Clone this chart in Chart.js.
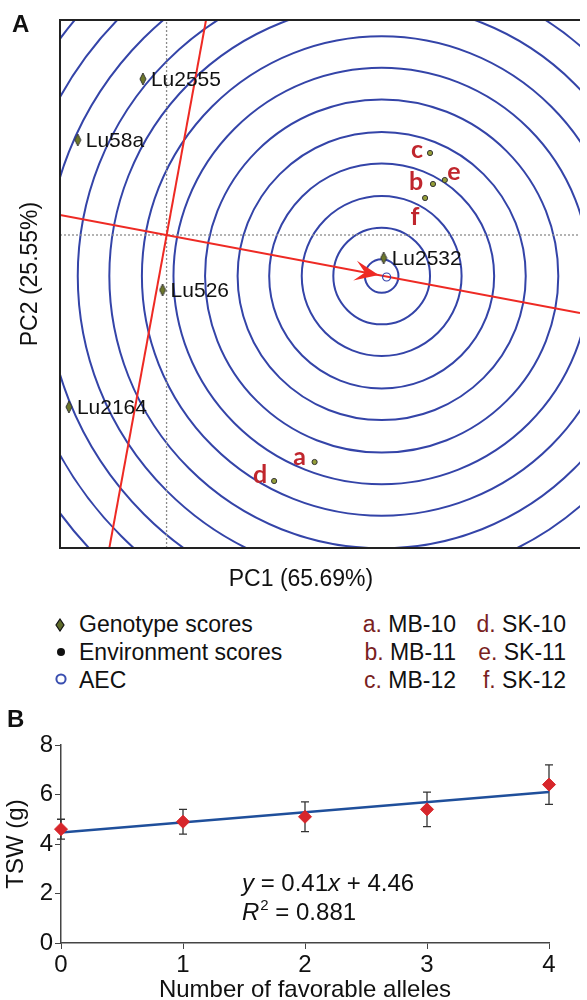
<!DOCTYPE html>
<html>
<head>
<meta charset="utf-8">
<title>GGE biplot and TSW</title>
<script src="https://cdn.jsdelivr.net/npm/chart.js@4.4.1/dist/chart.umd.min.js"></script>
<style>
  body { margin: 0; background: #fff; }
  #page { position: relative; width: 587px; height: 1000px; overflow: hidden;
          font-family: 'Liberation Sans', Arial, sans-serif; color: #111; }
  canvas { position: absolute; left: 0; }
  #biplot { top: 0; }
  #tswChart { top: 700px; }
  .tag { position: absolute; font-weight: bold; font-size: 24px; line-height: 24px; }
  .leg { position: absolute; font-size: 23px; line-height: 26px; white-space: nowrap; }
  .leg .k { color: #7a1f1f; }
  .mk { position: absolute; }
</style>
</head>
<body>
<div id="page">
  <canvas id="biplot" width="587" height="600"></canvas>
  <canvas id="tswChart" width="587" height="300"></canvas>

  <div class="tag" style="left:12px;top:12px">A</div>
  <div class="tag" style="left:7px;top:707px">B</div>

  <!-- legend of panel A -->
  <svg class="mk" style="left:55px;top:618px" width="10" height="14"><polygon points="5,1 9,7 5,13 1,7" fill="#5f6b2a" stroke="#111" stroke-width="1.2"/></svg>
  <svg class="mk" style="left:56px;top:647px" width="10" height="10"><circle cx="5" cy="5" r="4" fill="#111"/></svg>
  <svg class="mk" style="left:55px;top:673px" width="12" height="12"><circle cx="6" cy="6" r="4.6" fill="none" stroke="#3a4fb0" stroke-width="2"/></svg>
  <div class="leg" style="left:79px;top:611px">Genotype scores</div>
  <div class="leg" style="left:79px;top:639px">Environment scores</div>
  <div class="leg" style="left:79px;top:667px">AEC</div>

  <div class="leg" style="right:131px;top:611px;text-align:right"><span class="k">a.</span> MB-10</div>
  <div class="leg" style="right:131px;top:639px;text-align:right"><span class="k">b.</span> MB-11</div>
  <div class="leg" style="right:131px;top:667px;text-align:right"><span class="k">c.</span> MB-12</div>
  <div class="leg" style="right:21px;top:611px;text-align:right"><span class="k">d.</span> SK-10</div>
  <div class="leg" style="right:21px;top:639px;text-align:right"><span class="k">e.</span> SK-11</div>
  <div class="leg" style="right:21px;top:667px;text-align:right"><span class="k">f.</span> SK-12</div>
</div>

<script>
const FONT = "'Liberation Sans', Arial, sans-serif";

// ---- Panel A: GGE biplot data ----
const genotypeNames = ['Lu2555', 'Lu58a', 'Lu526', 'Lu2164', 'Lu2532'];
const genotypePC1 = [-0.24, -0.90, -0.04, -0.99, 2.20];
const genotypePC2 = [1.56, 0.95, -0.55, -1.72, -0.23];

const envLetters = ['a', 'b', 'c', 'd', 'e', 'f'];
const envPC1 = [1.50, 2.70, 2.67, 1.09, 2.82, 2.62];
const envPC2 = [-2.27, 0.51, 0.82, -2.46, 0.55, 0.37];

const aecPoint = [2.23, -0.42];
const arrowTip = [2.15, -0.40];
const ringCenter = [2.18, -0.41];
const ringRadii = [0.17, 0.49, 0.81, 1.14, 1.46, 1.79, 2.11, 2.43, 2.76, 3.08, 3.41, 3.73, 4.05, 4.38];

const aecAbscissaPC1 = [-1.08, 4.19];
const aecAbscissaPC2 = [0.20, -0.78];
const aecOrdinatePC1 = [0.40, -0.58];
const aecOrdinatePC2 = [2.15, -3.13];

const pc1Range = [-1.08, 4.19];
const pc2Range = [-3.13, 2.15];

// ---- Panel B: TSW vs favorable alleles ----
const alleleCounts = [0, 1, 2, 3, 4];
const tswMean = [4.6, 4.9, 5.1, 5.4, 6.4];
const tswError = [0.4, 0.5, 0.6, 0.7, 0.8];
const fitAlleles = [0, 4];
const fitTsw = [4.46, 6.10];
const tswTicks = [0, 2, 4, 6, 8];

// label offsets for environment letters (px, centre x / baseline y)
const letterOffset = { a: [-15, 3], b: [-17, 6], c: [-13, 5], d: [-14, 2], e: [9, 0], f: [-10, 27] };

function toPoints(xs, ys) {
  return xs.map((v, i) => ({ x: v, y: ys[i] }));
}

// elongated diamond used for genotype scores
function diamondImage(w, h) {
  const c = document.createElement('canvas');
  c.width = w + 2; c.height = h + 2;
  const g = c.getContext('2d');
  g.beginPath();
  g.moveTo(c.width / 2, 1);
  g.lineTo(w + 1, c.height / 2);
  g.lineTo(c.width / 2, h + 1);
  g.lineTo(1, c.height / 2);
  g.closePath();
  g.fillStyle = '#6c772a';
  g.fill();
  g.strokeStyle = '#333';
  g.lineWidth = 1;
  g.stroke();
  return c;
}

const biplotDecor = {
  id: 'biplotDecor',
  beforeDatasetsDraw(chart) {
    const { ctx, chartArea: a, scales: { x, y } } = chart;
    ctx.save();
    ctx.beginPath();
    ctx.rect(a.left, a.top, a.right - a.left, a.bottom - a.top);
    ctx.clip();
    const cx = x.getPixelForValue(ringCenter[0]);
    const cy = y.getPixelForValue(ringCenter[1]);
    ctx.strokeStyle = '#3444a8';
    ctx.lineWidth = 2;
    ringRadii.forEach(r => {
      const rp = x.getPixelForValue(ringCenter[0] + r) - cx;
      ctx.beginPath();
      ctx.arc(cx, cy, rp, 0, Math.PI * 2);
      ctx.stroke();
    });
    ctx.restore();
  },
  afterDatasetsDraw(chart) {
    const { ctx, chartArea: a, scales: { x, y } } = chart;
    ctx.save();

    // arrow head on the AEC abscissa
    const x0 = x.getPixelForValue(aecAbscissaPC1[0]), y0 = y.getPixelForValue(aecAbscissaPC2[0]);
    const x1 = x.getPixelForValue(aecAbscissaPC1[1]), y1 = y.getPixelForValue(aecAbscissaPC2[1]);
    const len = Math.hypot(x1 - x0, y1 - y0);
    const ux = (x1 - x0) / len, uy = (y1 - y0) / len;
    const nx = -uy, ny = ux;
    const tx = x.getPixelForValue(arrowTip[0]), ty = y.getPixelForValue(arrowTip[1]);
    ctx.fillStyle = '#ee2a24';
    ctx.beginPath();
    ctx.moveTo(tx, ty);
    ctx.lineTo(tx - 24 * ux + 10 * nx, ty - 24 * uy + 10 * ny);
    ctx.lineTo(tx - 14 * ux, ty - 14 * uy);
    ctx.lineTo(tx - 24 * ux - 10 * nx, ty - 24 * uy - 10 * ny);
    ctx.closePath();
    ctx.fill();

    // genotype names
    ctx.fillStyle = '#111';
    ctx.font = '21px ' + FONT;
    ctx.textAlign = 'left';
    ctx.textBaseline = 'middle';
    genotypeNames.forEach((n, i) => {
      ctx.fillText(n, x.getPixelForValue(genotypePC1[i]) + 8, y.getPixelForValue(genotypePC2[i]) + 1);
    });

    // environment letters
    ctx.fillStyle = '#c0262d';
    ctx.font = 'bold 25px Lato, ' + FONT;
    ctx.textAlign = 'center';
    ctx.textBaseline = 'alphabetic';
    envLetters.forEach((l, i) => {
      const o = letterOffset[l];
      ctx.fillText(l, x.getPixelForValue(envPC1[i]) + o[0], y.getPixelForValue(envPC2[i]) + o[1]);
    });

    // frame (left, top, bottom)
    ctx.strokeStyle = '#222';
    ctx.lineWidth = 2;
    ctx.beginPath();
    ctx.moveTo(a.right, a.top);
    ctx.lineTo(a.left, a.top);
    ctx.lineTo(a.left, a.bottom);
    ctx.lineTo(a.right, a.bottom);
    ctx.stroke();

    // axis titles
    ctx.fillStyle = '#111';
    ctx.font = '23px ' + FONT;
    ctx.textAlign = 'center';
    ctx.textBaseline = 'middle';
    ctx.fillText('PC1 (65.69%)', a.left + 241, a.bottom + 32);
    ctx.translate(31, a.top + 254);
    ctx.rotate(-Math.PI / 2);
    ctx.fillText('PC2 (25.55%)', 0, 0);
    ctx.restore();
  }
};

new Chart(document.getElementById('biplot'), {
  type: 'scatter',
  data: {
    datasets: [
      { type: 'line', data: toPoints([0, 0], pc2Range), borderColor: '#8a8a8a', borderWidth: 1.3,
        borderDash: [2, 2], pointRadius: 0, order: 6 },
      { type: 'line', data: toPoints(pc1Range, [0, 0]), borderColor: '#8a8a8a', borderWidth: 1.3,
        borderDash: [2, 2], pointRadius: 0, order: 6 },
      { type: 'line', data: toPoints(aecAbscissaPC1, aecAbscissaPC2), borderColor: '#ee2a24',
        borderWidth: 2, pointRadius: 0, order: 5 },
      { type: 'line', data: toPoints(aecOrdinatePC1, aecOrdinatePC2), borderColor: '#ee2a24',
        borderWidth: 2, pointRadius: 0, order: 5 },
      { data: [{ x: aecPoint[0], y: aecPoint[1] }], pointRadius: 4, backgroundColor: 'rgba(0,0,0,0)',
        borderColor: '#3444a8', borderWidth: 1.2, order: 3 },
      { data: toPoints(envPC1, envPC2), pointRadius: 2.6, backgroundColor: '#949e38',
        borderColor: '#333', borderWidth: 1, order: 2 },
      { data: toPoints(genotypePC1, genotypePC2), pointStyle: diamondImage(6, 12), pointRadius: 6, order: 1 }
    ]
  },
  options: {
    responsive: false,
    animation: false,
    devicePixelRatio: 1,
    layout: { padding: { left: 60, top: 20, right: 0, bottom: 52 } },
    plugins: { legend: { display: false }, tooltip: { enabled: false } },
    scales: {
      x: { type: 'linear', display: false, min: pc1Range[0], max: pc1Range[1] },
      y: { type: 'linear', display: false, min: pc2Range[0], max: pc2Range[1] }
    }
  },
  plugins: [biplotDecor]
});

// ---- Panel B ----
const errorBars = {
  id: 'errorBars',
  beforeDatasetsDraw(chart) {
    const { ctx, scales: { x, y } } = chart;
    ctx.save();
    ctx.strokeStyle = '#333';
    ctx.lineWidth = 1.3;
    alleleCounts.forEach((a, i) => {
      const px = x.getPixelForValue(a);
      const top = y.getPixelForValue(tswMean[i] + tswError[i]);
      const bot = y.getPixelForValue(tswMean[i] - tswError[i]);
      ctx.beginPath();
      ctx.moveTo(px, top); ctx.lineTo(px, bot);
      ctx.moveTo(px - 4, top); ctx.lineTo(px + 4, top);
      ctx.moveTo(px - 4, bot); ctx.lineTo(px + 4, bot);
      ctx.stroke();
    });
    ctx.restore();
  },
  afterDatasetsDraw(chart) {
    const { ctx, chartArea: a } = chart;
    ctx.save();
    ctx.fillStyle = '#111';
    ctx.textBaseline = 'alphabetic';
    ctx.textAlign = 'left';
    const it = 'italic 24px ' + FONT, rg = '24px ' + FONT;
    let cx = a.left + 181, by = a.top + 146;
    [['y', it], [' = 0.41', rg], ['x', it], [' + 4.46', rg]].forEach(([t, f]) => {
      ctx.font = f; ctx.fillText(t, cx, by); cx += ctx.measureText(t).width;
    });
    cx = a.left + 181; by = a.top + 175;
    ctx.font = it; ctx.fillText('R', cx, by); cx += ctx.measureText('R').width;
    ctx.font = '15px ' + FONT; ctx.fillText('2', cx + 1, by - 10); cx += ctx.measureText('2').width + 1;
    ctx.font = rg; ctx.fillText(' = 0.881', cx, by);
    ctx.restore();
  }
};

new Chart(document.getElementById('tswChart'), {
  type: 'scatter',
  data: {
    datasets: [
      { type: 'line', data: toPoints(fitAlleles, fitTsw), borderColor: '#1f4f9b', borderWidth: 2.5,
        pointRadius: 0, order: 2 },
      { data: toPoints(alleleCounts, tswMean), pointStyle: 'rectRot', pointRadius: 6.5,
        backgroundColor: '#d7262b', borderColor: '#d7262b', borderWidth: 1, clip: false, order: 1 }
    ]
  },
  options: {
    responsive: false,
    animation: false,
    devicePixelRatio: 1,
    layout: { padding: { left: 0, top: 45, right: 38, bottom: 0 } },
    plugins: { legend: { display: false }, tooltip: { enabled: false } },
    scales: {
      x: {
        type: 'linear', min: 0, max: 4,
        afterBuildTicks: s => { s.ticks = alleleCounts.map(v => ({ value: v })); },
        afterFit: s => { s.height = 57; },
        ticks: { color: '#111', padding: 2, font: { size: 24, family: FONT } },
        grid: { drawOnChartArea: false, tickLength: 6, color: '#444' },
        border: { color: '#444', width: 1.5 },
        title: { display: true, text: 'Number of favorable alleles', color: '#111',
                 padding: 0, font: { size: 24, family: FONT, lineHeight: 0.84 } }
      },
      y: {
        type: 'linear', min: 0, max: 8,
        afterBuildTicks: s => { s.ticks = tswTicks.map(v => ({ value: v })); },
        afterFit: s => { s.width = 61; },
        ticks: { color: '#111', padding: 2, font: { size: 24, family: FONT } },
        grid: { drawOnChartArea: false, tickLength: 6, color: '#444' },
        border: { color: '#444', width: 1.5 },
        title: { display: true, text: 'TSW (g)', color: '#111',
                 padding: { top: 2, bottom: 0 }, font: { size: 24, family: FONT } }
      }
    }
  },
  plugins: [errorBars]
});
</script>
</body>
</html>
